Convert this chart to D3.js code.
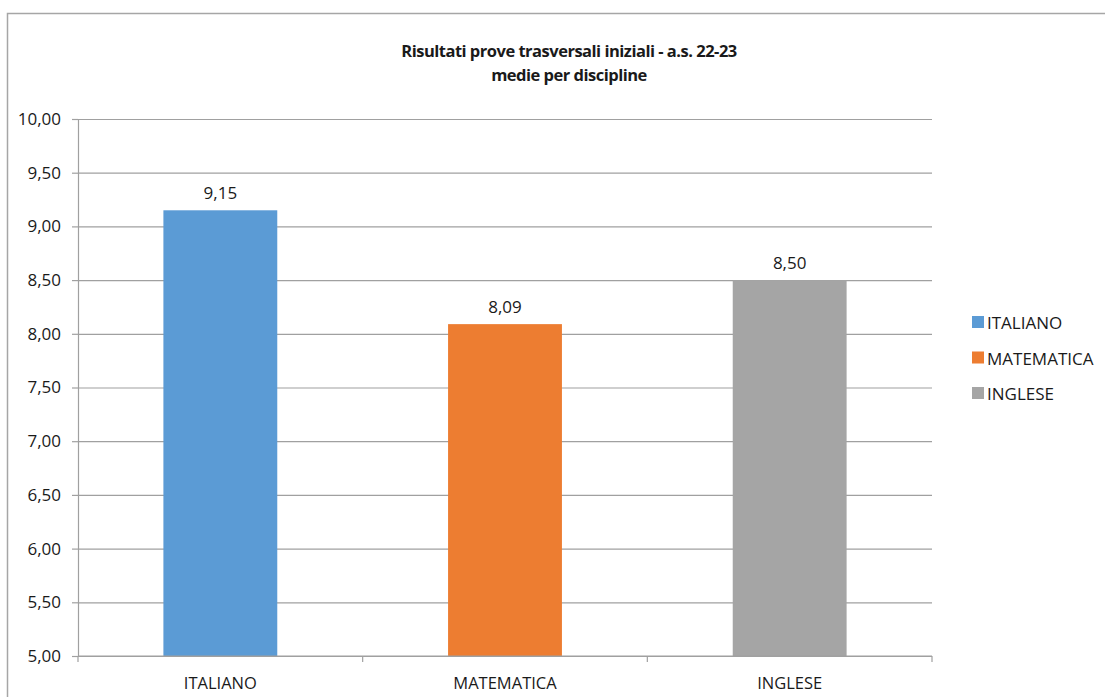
<!DOCTYPE html>
<html>
<head>
<meta charset="utf-8">
<script src="https://cdn.jsdelivr.net/npm/d3@7"></script>
<style>
  body { margin: 0; background: #fff; }
  text { font-family: "Open Sans", "Noto Sans", sans-serif; fill: #1a1a1a; }
</style>
</head>
<body>
<div id="chart"></div>
<script>
var categories = ["ITALIANO", "MATEMATICA", "INGLESE"];
var values = [9.15, 8.09, 8.50];
var colors = ["#5b9bd5", "#ed7d31", "#a5a5a5"];
var yTicks = [5, 5.5, 6, 6.5, 7, 7.5, 8, 8.5, 9, 9.5, 10];
var titleLines = ["Risultati prove trasversali iniziali - a.s. 22-23", "medie per discipline"];

var W = 1105, H = 697;
var margin = {left: 78, right: 173, top: 119, bottom: 41};

var svg = d3.select("#chart").append("svg")
    .attr("width", W)
    .attr("height", H);

// chart frame (cut off at right and bottom)
svg.append("rect")
    .attr("x", 7.5).attr("y", 13.5)
    .attr("width", W).attr("height", H)
    .attr("fill", "none")
    .attr("stroke", "#a6a6a6")
    .attr("stroke-width", 1.5);

var fmt = function(v) { return d3.format(".2f")(v).replace(".", ","); };

var x = d3.scaleBand()
    .domain(categories)
    .range([margin.left, W - margin.right])
    .paddingInner(0.6)
    .paddingOuter(0.3);

var y = d3.scaleLinear()
    .domain([5, 10])
    .range([H - margin.bottom, margin.top]);

// gridlines
svg.append("g")
    .attr("transform", "translate(" + margin.left + ",0)")
    .call(d3.axisLeft(y).tickValues(yTicks).tickSize(-(W - margin.right - margin.left)).tickFormat(""))
    .call(function(g) { g.select(".domain").remove(); })
    .selectAll("line")
    .attr("stroke", "#a0a0a0")
    .attr("stroke-width", 1.2);

// y axis
var yAxis = svg.append("g")
    .attr("transform", "translate(" + margin.left + ",0)")
    .call(d3.axisLeft(y).tickValues(yTicks).tickSize(6).tickFormat(fmt));
yAxis.select(".domain").attr("stroke", "#a0a0a0").attr("stroke-width", 1.2);
yAxis.selectAll(".tick line").attr("stroke", "#a0a0a0").attr("stroke-width", 1.2);
yAxis.selectAll(".tick text")
    .attr("x", -17)
    .style("font-size", "17px");

// bars
svg.selectAll(".bar")
    .data(values)
    .enter().append("rect")
    .attr("class", "bar")
    .attr("x", function(d, i) { return x(categories[i]); })
    .attr("y", function(d) { return y(d); })
    .attr("width", x.bandwidth())
    .attr("height", function(d) { return y(5) - y(d); })
    .attr("fill", function(d, i) { return colors[i]; });

// value labels
svg.selectAll(".val")
    .data(values)
    .enter().append("text")
    .attr("class", "val")
    .attr("x", function(d, i) { return x(categories[i]) + x.bandwidth() / 2; })
    .attr("y", function(d) { return y(d) - 11; })
    .attr("text-anchor", "middle")
    .style("font-size", "17px")
    .text(fmt);

// x axis with ticks between categories
var xEdges = d3.range(categories.length + 1).map(function(i) { return margin.left + i * (W - margin.right - margin.left) / categories.length; });
var xAxisG = svg.append("g");
xAxisG.append("line")
    .attr("x1", margin.left).attr("x2", W - margin.right)
    .attr("y1", y(5)).attr("y2", y(5))
    .attr("stroke", "#a0a0a0").attr("stroke-width", 1.2);
xAxisG.selectAll(".xt")
    .data(xEdges)
    .enter().append("line")
    .attr("x1", function(d) { return d; }).attr("x2", function(d) { return d; })
    .attr("y1", y(5)).attr("y2", y(5) + 6)
    .attr("stroke", "#a0a0a0").attr("stroke-width", 1.2);
xAxisG.selectAll(".xl")
    .data(categories)
    .enter().append("text")
    .attr("x", function(d) { return x(d) + x.bandwidth() / 2; })
    .attr("y", y(5) + 33)
    .attr("text-anchor", "middle")
    .style("font-size", "16.5px")
    .text(function(d) { return d; });

// title
svg.selectAll(".title")
    .data(titleLines)
    .enter().append("text")
    .attr("x", 569)
    .attr("y", function(d, i) { return 57 + i * 24; })
    .attr("text-anchor", "middle")
    .style("font-size", "16.5px")
    .style("letter-spacing", "-0.5px")
    .style("font-weight", "bold")
    .text(function(d) { return d; });

// legend
var legend = svg.selectAll(".legend")
    .data(categories)
    .enter().append("g")
    .attr("transform", function(d, i) { return "translate(972," + (316 + i * 35.5) + ")"; });
legend.append("rect")
    .attr("width", 12).attr("height", 12)
    .attr("fill", function(d, i) { return colors[i]; });
legend.append("text")
    .attr("x", 15)
    .attr("y", 13)
    .style("font-size", "17px")
    .text(function(d) { return d; });
</script>
</body>
</html>
